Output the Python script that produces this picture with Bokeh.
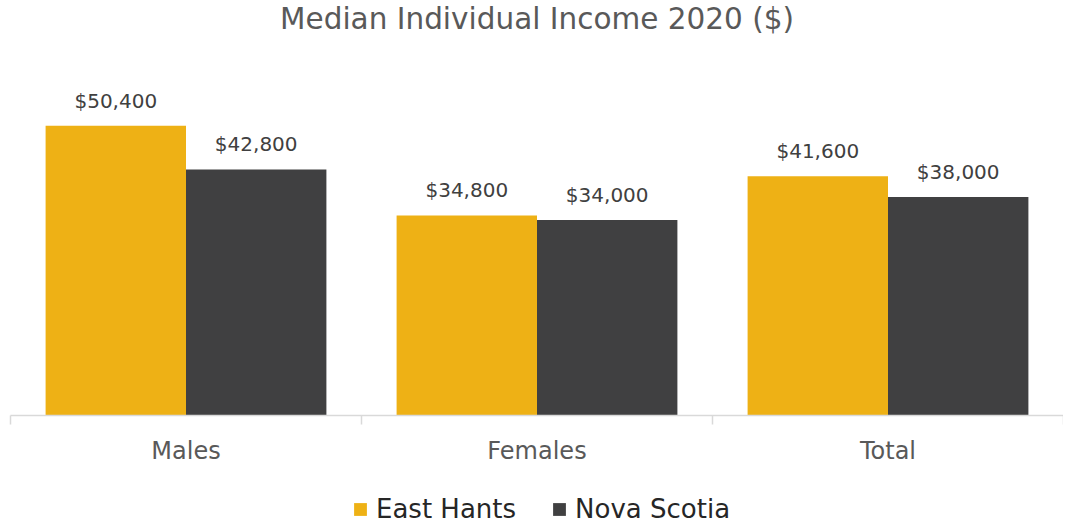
from bokeh.plotting import figure
from bokeh.layouts import column
from bokeh.models import ColumnDataSource, FixedTicker, LabelSet, Legend, LegendItem, Title
from bokeh.core.properties import value
from bokeh.transform import dodge
from bokeh.embed import file_html
from bokeh.resources import INLINE

categories = ["Males", "Females", "Total"]
east_hants = [50400, 34800, 41600]
nova_scotia = [42800, 34000, 38000]
series_names = ["East Hants", "Nova Scotia"]
title_text = "Median Individual Income 2020 ($)"

YELLOW = "#EEB115"
DARK = "#404041"
FONT = "DejaVu Sans"

xc = [i + 0.5 for i in range(len(categories))]
src = ColumnDataSource(dict(
    x=xc,
    eh=east_hants,
    ns=nova_scotia,
    eh_lbl=["${:,}".format(v) for v in east_hants],
    ns_lbl=["${:,}".format(v) for v in nova_scotia],
))

p = figure(frame_width=1053, frame_height=345, x_range=(0, len(categories)), y_range=(0, 60000),
           output_backend="svg", toolbar_location=None,
           min_border_left=10, min_border_right=0, min_border_top=0, min_border_bottom=66)

# real title on the outside, blank spacer title next to the frame
p.title.text = title_text
p.title.align = "center"
p.title.vertical_align = "top"
p.title.standoff = 2
p.title.text_font = FONT
p.title.text_font_size = "29.5px"
p.title.text_font_style = "normal"
p.title.text_color = "#595959"
spacer = Title(text=" ", text_font_size="27px", standoff=0)
p.add_layout(spacer, "above")

r1 = p.vbar(x=dodge("x", -0.2), top="eh", width=0.4, source=src, color=YELLOW, line_color=None)
r2 = p.vbar(x=dodge("x", 0.2), top="ns", width=0.4, source=src, color=DARK, line_color=None)

for col, top, off in (("eh_lbl", "eh", -0.2), ("ns_lbl", "ns", 0.2)):
    lbl = LabelSet(x=dodge("x", off), y=top, text=col, source=src,
                   text_align="center", text_baseline="alphabetic", y_offset=18,
                   text_font=value(FONT), text_font_size=value("20px"), text_color=value("#404040"))
    p.add_layout(lbl)

p.yaxis.visible = False
p.grid.visible = False
p.outline_line_color = None

ax = p.xaxis[0]
ax.ticker = FixedTicker(ticks=xc, minor_ticks=[0, 1, 2, 3])
ax.major_label_overrides = {x: c for x, c in zip(xc, categories)}
ax.major_tick_line_color = None
ax.major_tick_in = 0
ax.major_tick_out = 0
ax.minor_tick_in = 0
ax.minor_tick_out = 9
ax.minor_tick_line_color = "#d9d9d9"
ax.minor_tick_line_width = 1.5
ax.axis_line_color = "#d9d9d9"
ax.axis_line_width = 1.5
ax.major_label_text_font = FONT
ax.major_label_text_font_size = "24px"
ax.major_label_text_color = "#595959"
ax.major_label_standoff = 12

# legend strip below the chart (zero-height proxy bars only supply legend swatches)
p2 = figure(frame_width=1063, frame_height=44, x_range=(0, 1), y_range=(0, 1),
            output_backend="svg", toolbar_location=None,
            min_border_left=0, min_border_right=0, min_border_top=0, min_border_bottom=0)
p2.axis.visible = False
p2.grid.visible = False
p2.outline_line_color = None
k1 = p2.vbar(x=[0], top=[0], bottom=0, width=0, color=YELLOW, line_color=None)
k2 = p2.vbar(x=[0], top=[0], bottom=0, width=0, color=DARK, line_color=None)
legend = Legend(items=[LegendItem(label=series_names[0], renderers=[k1]),
                       LegendItem(label=series_names[1], renderers=[k2])],
                orientation="horizontal", location=(352, 1),
                label_text_font=FONT, label_text_font_size="26px", label_text_color="#262626",
                glyph_width=16, glyph_height=16, label_standoff=8, spacing=35,
                padding=0, margin=0, border_line_color=None, background_fill_alpha=0)
p2.add_layout(legend, "center")

layout = column(p, p2, spacing=0)
open("out.html", "w").write(file_html(layout, INLINE))
